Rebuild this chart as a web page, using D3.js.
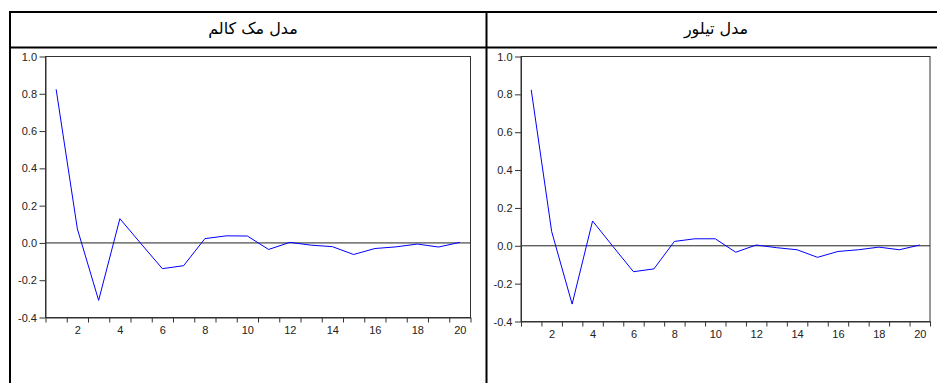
<!DOCTYPE html>
<html>
<head>
<meta charset="utf-8">
<script src="https://cdn.jsdelivr.net/npm/d3@7"></script>
<style>
  html, body { margin: 0; padding: 0; background: #fff; }
  svg { display: block; }
</style>
</head>
<body>
<svg id="chart" width="937" height="383"></svg>
<script>
// ---- data ----
const titles = ["مدل مک کالم", "مدل تیلور"];
const lags = d3.range(1, 21);
const mccallumValues = [0.824, 0.075, -0.308, 0.130, -0.005, -0.138, -0.122, 0.023, 0.038, 0.037,
                        -0.035, 0.003, -0.012, -0.020, -0.062, -0.030, -0.021, -0.006, -0.022, 0.003];
const taylorValues   = [0.824, 0.075, -0.308, 0.131, -0.004, -0.137, -0.122, 0.023, 0.037, 0.037,
                        -0.034, 0.004, -0.010, -0.021, -0.061, -0.030, -0.021, -0.007, -0.021, 0.004];
const yTicks = [-0.4, -0.2, 0.0, 0.2, 0.4, 0.6, 0.8, 1.0];
const xTickLabels = [2, 4, 6, 8, 10, 12, 14, 16, 18, 20];

const svg = d3.select("#chart");

// ---- table frame ----
const tbl = svg.append("g").attr("stroke", "#000").attr("stroke-width", 2);
tbl.append("line").attr("x1", 9).attr("x2", 940).attr("y1", 12).attr("y2", 12);
tbl.append("line").attr("x1", 9).attr("x2", 940).attr("y1", 47.5).attr("y2", 47.5);
tbl.append("line").attr("x1", 10).attr("x2", 10).attr("y1", 11).attr("y2", 383);
tbl.append("line").attr("x1", 486.5).attr("x2", 486.5).attr("y1", 11).attr("y2", 383);

svg.append("text").attr("x", 253).attr("y", 34).attr("text-anchor", "middle")
  .attr("font-family", "'DejaVu Sans', sans-serif").attr("font-size", 16).attr("fill", "#000")
  .attr("direction", "rtl").text(titles[0]);
svg.append("text").attr("x", 716).attr("y", 34).attr("text-anchor", "middle")
  .attr("font-family", "'DejaVu Sans', sans-serif").attr("font-size", 16).attr("fill", "#000")
  .attr("direction", "rtl").text(titles[1]);

function drawPanel(values, left, right, top, bottom) {
  const x = d3.scaleLinear().domain([0.5, 20.5]).range([left, right]);
  const y = d3.scaleLinear().domain([-0.4, 1.0]).range([bottom, top]);
  const g = svg.append("g");

  // frame
  g.append("rect").attr("x", left).attr("y", top)
    .attr("width", right - left).attr("height", bottom - top)
    .attr("fill", "none").attr("stroke", "#333").attr("stroke-width", 1);

  // zero line
  g.append("line").attr("x1", left).attr("x2", right)
    .attr("y1", y(0)).attr("y2", y(0))
    .attr("stroke", "#222").attr("stroke-width", 1);

  // y axis
  const ya = g.append("g").attr("transform", `translate(${left},0)`)
    .call(d3.axisLeft(y).tickValues(yTicks).tickFormat(d3.format(".1f")).tickSize(6).tickSizeOuter(0));
  ya.select(".domain").attr("stroke", "#333");
  ya.selectAll(".tick line").attr("stroke", "#333");
  ya.selectAll(".tick text").attr("font-family", "'Liberation Sans', Arial, sans-serif")
    .attr("font-size", 11).attr("fill", "#222").attr("x", -8.5).text(d => d3.format(".1f")(d).replace("−", "-"));

  // x axis: minor ticks at boundaries, labels at even lags
  const xa = g.append("g").attr("transform", `translate(0,${bottom})`)
    .call(d3.axisBottom(x).tickValues(d3.range(0.5, 21, 1)).tickFormat("").tickSize(5).tickSizeOuter(0));
  xa.select(".domain").attr("stroke", "#333");
  xa.selectAll(".tick line").attr("stroke", "#333");
  const xl = g.append("g").attr("transform", `translate(0,${bottom})`)
    .call(d3.axisBottom(x).tickValues(xTickLabels).tickSize(0).tickPadding(9).tickSizeOuter(0));
  xl.select(".domain").remove();
  xl.selectAll(".tick text").attr("font-family", "'Liberation Sans', Arial, sans-serif")
    .attr("font-size", 11).attr("fill", "#222");

  // series line
  const line = d3.line().x((d, i) => x(lags[i])).y(d => y(d));
  g.append("path").datum(values).attr("d", line)
    .attr("fill", "none").attr("stroke", "#0000ff").attr("stroke-width", 1);
}

drawPanel(mccallumValues, 45.5, 470.5, 56.5, 317.5);
drawPanel(taylorValues, 521, 930, 56.5, 321.5);
</script>
</body>
</html>
